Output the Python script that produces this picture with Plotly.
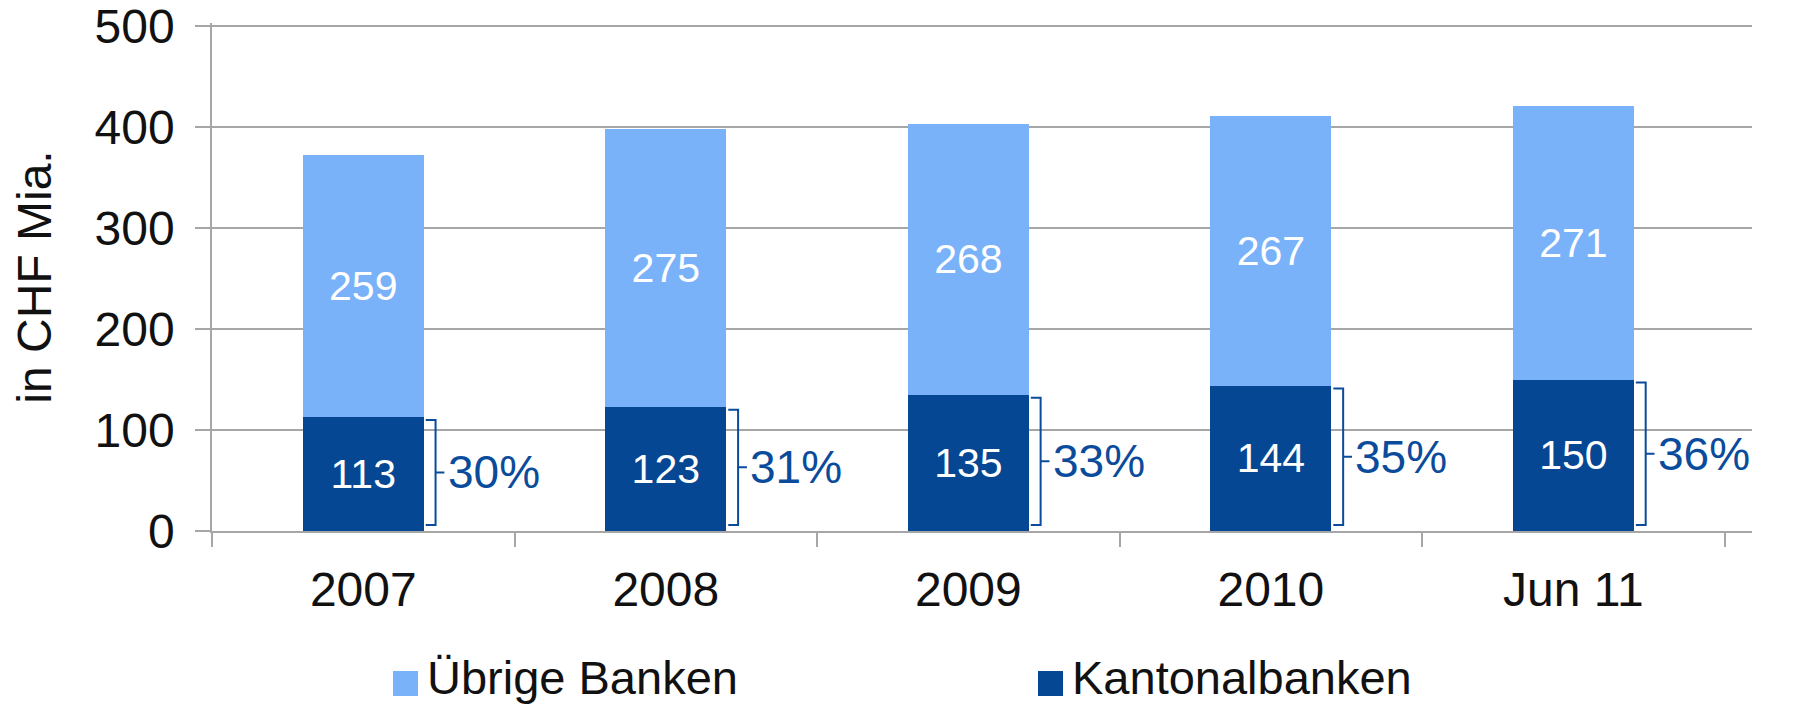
import plotly.graph_objects as go

categories = ["2007", "2008", "2009", "2010", "Jun 11"]
kantonalbanken = [113, 123, 135, 144, 150]
uebrige_banken = [259, 275, 268, 267, 271]
share_labels = ["30%", "31%", "33%", "35%", "36%"]

DARK = "#064794"
LIGHT = "#7ab2f9"
PCT = "#0b4b9b"
FONT = "Liberation Sans, Arial, sans-serif"

# page body margin offsets the figure by 8px
OFF = 8
W, H = 1798 - OFF, 708 - OFF
ML, MR, MT, MB = 212 - OFF, 46, 23 - OFF, 177
PW, PH = W - ML - MR, H - MT - MB


def px_x(px):
    return (px - OFF - ML) / PW


def px_y(py):
    return (H - MB - (py - OFF)) / PH


fig = go.Figure()
fig.add_trace(go.Bar(
    x=categories, y=kantonalbanken, name="Kantonalbanken",
    marker=dict(color=DARK, line=dict(width=0)),
    text=[str(v) for v in kantonalbanken], textposition="inside",
    insidetextanchor="middle", textangle=0,
    textfont=dict(color="white", size=41, family=FONT),
    showlegend=False,
))
fig.add_trace(go.Bar(
    x=categories, y=uebrige_banken, name="Übrige Banken",
    marker=dict(color=LIGHT, line=dict(width=0)),
    text=[str(v) for v in uebrige_banken], textposition="inside",
    insidetextanchor="middle", textangle=0,
    textfont=dict(color="white", size=41, family=FONT),
    showlegend=False,
))

# brackets + share labels computed from the data
half = 0.2
cw = PW / len(categories)  # px per category
for i, (v, lab) in enumerate(zip(kantonalbanken, share_labels)):
    x0 = i + half + 2 / cw
    x1 = i + half + 12 / cw
    x2 = i + half + 21 / cw
    top = v - 3
    bot = 6
    mid = (top + bot) / 2
    fig.add_shape(type="path",
                  path=f"M {x0} {top} L {x1} {top} L {x1} {bot} L {x0} {bot} M {x1} {mid} L {x2} {mid}",
                  xref="x", yref="y", line=dict(color=PCT, width=2))
    fig.add_annotation(x=i + half + 22.5 / cw, y=mid, text=lab, showarrow=False,
                       xanchor="left", yanchor="middle", xref="x", yref="y",
                       font=dict(size=46, color=PCT, family=FONT))

# legend (drawn as squares + labels below the plot)
legend_items = [("Übrige Banken", LIGHT, 393), ("Kantonalbanken", DARK, 1038)]
for name, col, lx in legend_items:
    fig.add_shape(type="rect", xref="paper", yref="paper",
                  x0=px_x(lx), x1=px_x(lx + 25), y0=px_y(696), y1=px_y(671),
                  fillcolor=col, line=dict(width=0))
    fig.add_annotation(x=px_x(lx + 32), y=px_y(706), xref="paper", yref="paper",
                       text=name, showarrow=False, xanchor="left", yanchor="bottom",
                       font=dict(size=47, family=FONT, color="#111111"))

fig.update_layout(
    barmode="stack",
    bargap=0.6,
    width=W, height=H, autosize=False,
    margin=dict(l=ML, r=MR, t=MT, b=MB, autoexpand=False),
    plot_bgcolor="white", paper_bgcolor="white",
    font=dict(family=FONT, size=48, color="#111111"),
    showlegend=False,
    xaxis=dict(type="category", showline=True, linecolor="#a6a6a6", linewidth=1.5,
               ticks="outside", tickson="boundaries", ticklen=14, tickcolor="#a6a6a6",
               tickwidth=1.5, showgrid=False, tickfont=dict(size=48, family=FONT),
               ticklabelstandoff=16, automargin=False),
    yaxis=dict(range=[0, 503], tickvals=[0, 100, 200, 300, 400, 500], showline=True,
               linecolor="#a6a6a6", linewidth=1.5,
               ticks="outside", ticklen=15, tickcolor="#a6a6a6", tickwidth=1.5,
               showgrid=True, gridcolor="#a6a6a6", gridwidth=1.5,
               tickfont=dict(size=48, family=FONT), ticklabelstandoff=11, automargin=False,
               ticklabeloverflow="allow",
               title=dict(text="in CHF Mia.", font=dict(size=48, family=FONT), standoff=29)),
)

fig.write_html("out.html")
